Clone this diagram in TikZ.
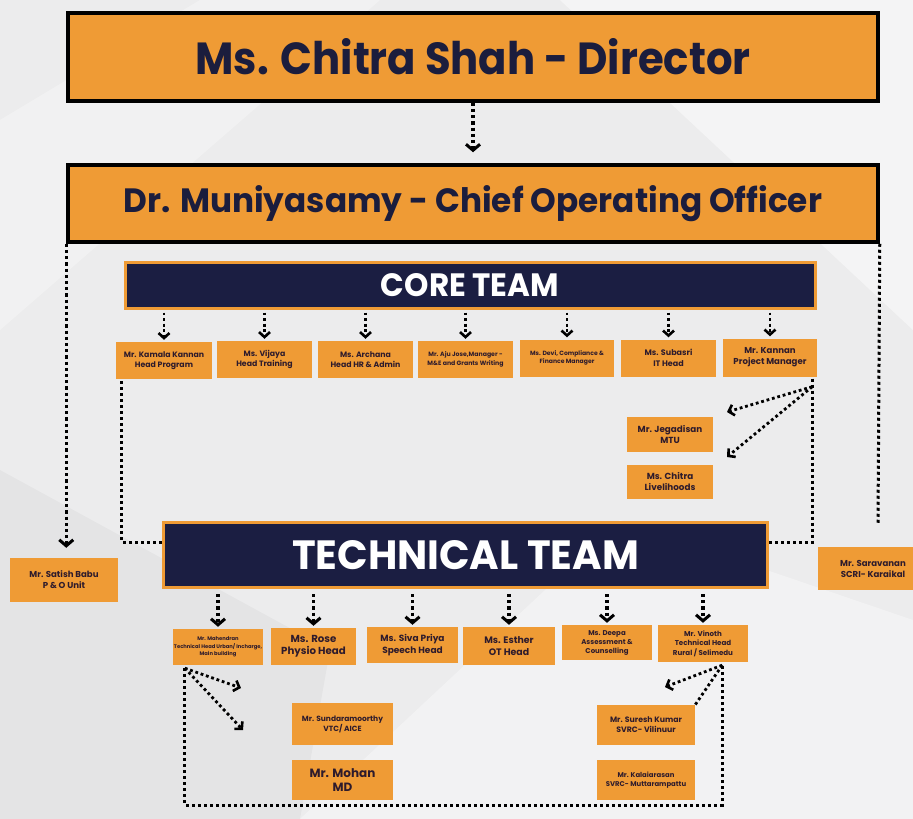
\documentclass[tikz,border=0pt]{standalone}
\usepackage{fontspec}
\setmainfont{Poppins}
\usetikzlibrary{arrows.meta}
\definecolor{org}{HTML}{EF9B35}
\definecolor{nav}{HTML}{1B1E42}
\definecolor{txt}{HTML}{1B1D3D}
\definecolor{stxt}{HTML}{2E1B2C}
\definecolor{bg}{HTML}{ECECED}
\newcommand{\fitt}[3]{\resizebox{#1pt}{#2pt}{\bfseries #3}}
\newcommand{\fs}[2]{\bfseries\fontsize{#1}{#2}\selectfont}
\begin{document}
\begin{tikzpicture}[x=1pt,y=-1pt,
 topbox/.style={fill=org,draw=black,line width=3.5pt,inner sep=0pt,text=txt},
 bar/.style={fill=nav,draw=org,line width=3pt,inner sep=0pt,text=white},
 sbox/.style={fill=org,inner sep=0pt,text=stxt,align=center,font=\bfseries},
 dotl/.style={draw=black,line width=3pt,dash pattern=on 3pt off 3pt},
 arr/.style={dotl,line width=3.2pt,dash pattern=on 3.2pt off 3pt,-{Straight Barb[length=6pt,width=14pt,line width=3pt]}},
 sarr/.style={draw=black,line width=2.8pt,dash pattern=on 2.8pt off 2.8pt,-{Straight Barb[length=5pt,width=11pt,line width=2.6pt]}},
]
% background
\fill[bg] (0,0) rectangle (913,819);
\useasboundingbox (0,0) rectangle (913,819);
\fill[white,opacity=0.45] (560,0) -- (913,0) -- (913,330) -- cycle;
\fill[white,opacity=0.35] (300,819) -- (620,520) -- (913,620) -- (913,819) -- cycle;
\fill[black,opacity=0.03] (0,470) -- (330,650) -- (300,819) -- (0,819) -- cycle;
\fill[white,opacity=0.3] (0,120) -- (200,0) -- (380,0) -- (0,330) -- cycle;

% top boxes
\node[topbox,minimum width=810pt,minimum height=88pt] (dir) at (473,57)
  {\fitt{555}{36}{Ms. Chitra Shah - Director}};
\node[topbox,minimum width=810pt,minimum height=77pt] (coo) at (473,203.5)
  {\fitt{698}{27}{Dr. Muniyasamy - Chief Operating Officer}};
\draw[arr,shorten >=11pt] (dir.south) -- (coo.north);

% core team
\node[bar,minimum width=690pt,minimum height=46pt] (core) at (470,285)
  {\fitt{178}{23}{CORE TEAM}};
\node[sbox,minimum width=96pt,minimum height=37pt,font=\fs{7.8}{10}] (k1) at (164,360.5) {Mr. Kamala Kannan\\Head Program};
\node[sbox,minimum width=95pt,minimum height=37pt,font=\fs{7.8}{10}] (k2) at (264.5,359.5) {Ms. Vijaya\\Head Training};
\node[sbox,minimum width=95pt,minimum height=37pt,font=\fs{7.8}{10}] (k3) at (365.5,359.5) {Ms. Archana\\Head HR \& Admin};
\node[sbox,minimum width=95pt,minimum height=37pt,font=\fs{6.2}{8.5}] (k4) at (465.5,359.5) {Mr. Aju Jose,Manager -\\M\&E and Grants Writing};
\node[sbox,minimum width=94pt,minimum height=37pt,font=\fs{6.1}{8.5}] (k5) at (567,358) {Ms. Devi, Compliance \&\\Finance Manager};
\node[sbox,minimum width=95pt,minimum height=37pt,font=\fs{8}{10.5}] (k6) at (668.5,358) {Ms. Subasri\\IT Head};
\node[sbox,minimum width=94pt,minimum height=38pt,font=\fs{8.6}{11}] (k7) at (770,357.5) {Mr. Kannan\\Project Manager};
\foreach \k in {k1,k2,k3,k4,k5,k6,k7}{
  \draw[sarr,shorten >=2pt] (core.south -| \k.north) ++(0,3) -- (\k.north);
}

\node[sbox,minimum width=86pt,minimum height=35pt,font=\fs{8.8}{11}] (jeg) at (670,434.5) {Mr. Jegadisan\\MTU};
\node[sbox,minimum width=86pt,minimum height=34pt,font=\fs{8.8}{11}] (chi) at (670,482) {Ms. Chitra\\Livelihoods};
\coordinate (kp) at ([xshift=-5pt,yshift=-10pt]k7.south east);
\coordinate (ja) at (727,412);
\coordinate (ca) at (727,457);
\draw[sarr] (kp) -- (ja);
\draw[sarr] (kp) -- (ca);

% technical team
\node[bar,minimum width=604pt,minimum height=65pt] (tech) at (465.5,555)
  {\fitt{347}{29}{TECHNICAL TEAM}};
\draw[dotl] ([xshift=6pt,yshift=-2pt]k1.south west) |- ([yshift=13pt]tech.west);
\draw[dotl] ([xshift=-5pt,yshift=-2pt]k7.south east) |- ([yshift=13pt]tech.east);

% side boxes
\node[sbox,minimum width=108pt,minimum height=44pt,font=\fs{8.6}{11}] (sat) at (64,580) {Mr. Satish Babu\\P \& O Unit};
\node[sbox,minimum width=110pt,minimum height=43pt,font=\fs{8.6}{11}] (sar) at (873,568.5) {Mr. Saravanan\\SCRI- Karaikal};
\draw[arr,shorten >=10pt] (coo.south west) -- (coo.south west |- sat.north);
\coordinate (re) at (878,523);
\draw[dotl] (coo.south east) -- (re);

% technical boxes
\node[sbox,minimum width=90pt,minimum height=36pt,font=\fs{5.2}{7.5}] (m1) at (218,647) {Mr. Mahendran\\Technical Head Urban/ Incharge,\\Main building};
\node[sbox,minimum width=85pt,minimum height=37pt,font=\fs{10.2}{12.5}] (m2) at (313.5,646.5) {Ms. Rose\\Physio Head};
\node[sbox,minimum width=91pt,minimum height=36pt,font=\fs{9}{11.5}] (m3) at (412.5,645) {Ms. Siva Priya\\Speech Head};
\node[sbox,minimum width=92pt,minimum height=38pt,font=\fs{9.4}{12}] (m4) at (509,646) {Ms. Esther\\OT Head};
\node[sbox,minimum width=90pt,minimum height=35pt,font=\fs{7}{9}] (m5) at (607,642.5) {Ms. Deepa\\Assessment \&\\Counselling};
\node[sbox,minimum width=90pt,minimum height=37pt,font=\fs{7.1}{9.4}] (m6) at (703,643.5) {Mr. Vinoth\\Technical Head\\Rural / Selimedu};
\foreach \m in {m1,m2,m3,m4,m5,m6}{
  \draw[arr,shorten >=2pt] (tech.south -| \m.north) ++(0,5) -- (\m.north);
}

% lower boxes
\node[sbox,minimum width=101pt,minimum height=42pt,font=\fs{7.5}{10}] (sun) at (342.5,724) {Mr. Sundaramoorthy\\VTC/ AICE};
\node[sbox,minimum width=101pt,minimum height=40pt,font=\fs{12}{14}] (moh) at (342.5,780) {Mr. Mohan\\MD};
\node[sbox,minimum width=98pt,minimum height=40pt,font=\fs{7.8}{10}] (sur) at (646,725) {Mr. Suresh Kumar\\SVRC- Vilinuur};
\node[sbox,minimum width=98pt,minimum height=40pt,font=\fs{6.9}{9.5}] (kal) at (646,780) {Mr. Kalaiarasan\\SVRC- Muttarampattu};

\coordinate (mp) at ([xshift=12pt,yshift=-3pt]m1.south west);
\coordinate (vp) at ([xshift=-26pt,yshift=-3pt]m6.south east);
\coordinate (bot) at (0,805);
\coordinate (ma1) at (241,688);
\coordinate (ma2) at (243,730);
\coordinate (va1) at (665,687);
\draw[sarr] (mp) -- (ma1);
\draw[sarr] (mp) -- (ma2);
\draw[sarr] (vp) -- (va1);
\draw[draw=black,line width=2.8pt,dash pattern=on 2.8pt off 2.8pt] (vp) -- (sur.north east);
\draw[dotl] (mp) -- (mp |- bot) -| (vp);
\end{tikzpicture}
\end{document}
